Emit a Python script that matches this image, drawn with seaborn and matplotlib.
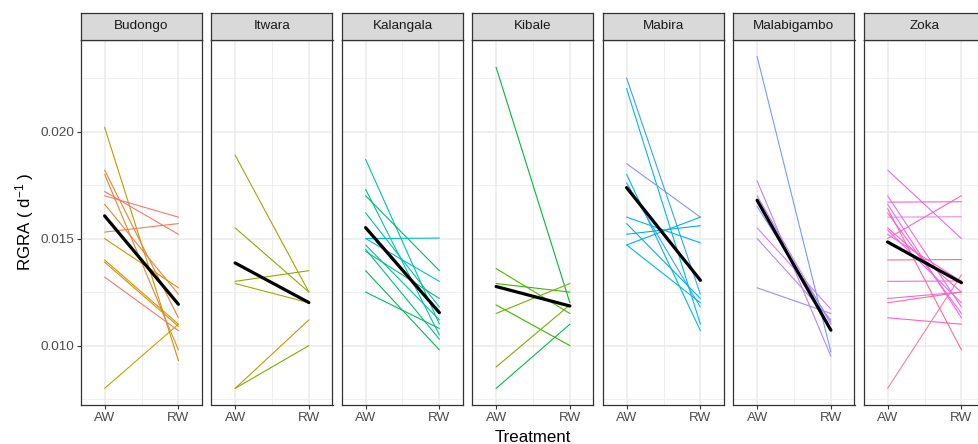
import numpy as np
import pandas as pd
import matplotlib
matplotlib.use("Agg")
import matplotlib.pyplot as plt
import seaborn as sns

# ---------------- data ----------------
sites = ["Budongo", "Itwara", "Kalangala", "Kibale", "Mabira", "Malabigambo", "Zoka"]
treatments = ["AW", "RW"]

budongo_aw = [0.0202, 0.0182, 0.0180, 0.0172, 0.0170, 0.0166, 0.0153, 0.0150, 0.0140, 0.0139, 0.0132, 0.0080]
budongo_rw = [0.0093, 0.0113, 0.0098, 0.0152, 0.0160, 0.0124, 0.0157, 0.0127, 0.0110, 0.0109, 0.0107, 0.0110]
itwara_aw = [0.0189, 0.0155, 0.0130, 0.0129, 0.0080, 0.0080]
itwara_rw = [0.0125, 0.0125, 0.0135, 0.0120, 0.0112, 0.0100]
kalangala_aw = [0.0187, 0.0173, 0.0170, 0.0162, 0.0150, 0.0150, 0.0147, 0.0145, 0.0144, 0.0135, 0.0125]
kalangala_rw = [0.0110, 0.0105, 0.0135, 0.0118, 0.01502, 0.0130, 0.0112, 0.0103, 0.0122, 0.0098, 0.0108]
kibale_aw = [0.0230, 0.0136, 0.0129, 0.0119, 0.0115, 0.0090, 0.0080]
kibale_rw = [0.0120, 0.0115, 0.0125, 0.0100, 0.0129, 0.0119, 0.0110]
mabira_aw = [0.0225, 0.0220, 0.0185, 0.0180, 0.0176, 0.0160, 0.0157, 0.0152, 0.0147, 0.0147]
mabira_rw = [0.0124, 0.0110, 0.0160, 0.0107, 0.0118, 0.0148, 0.0122, 0.0156, 0.0160, 0.0120]
malabigambo_aw = [0.0235, 0.0177, 0.0170, 0.0165, 0.0155, 0.0150, 0.0127]
malabigambo_rw = [0.0097, 0.0095, 0.0110, 0.0111, 0.0117, 0.0112, 0.0115]
zoka_aw = [0.0182, 0.0167, 0.0160, 0.0150, 0.0140, 0.0130, 0.0122, 0.0120, 0.0113, 0.0080,
           0.0170, 0.0166, 0.0164, 0.0162, 0.0155, 0.0154, 0.0152]
zoka_rw = [0.0150, 0.01672, 0.01602, 0.0170, 0.01402, 0.01302, 0.0125, 0.0125, 0.0110, 0.0133,
           0.0118, 0.0113, 0.0098, 0.0115, 0.0125, 0.0120, 0.0130]

mean_aw = [0.01606, 0.01386, 0.01551, 0.01276, 0.01738, 0.01679, 0.01484]
mean_rw = [0.01193, 0.01201, 0.01154, 0.01185, 0.01305, 0.01072, 0.01294]

# line colours (one per individual line, per site)
budongo_cols = ["#C09B00", "#EA8331", "#EA8331", "#F8766D", "#F8766D", "#EA8331", "#F07F4F",
                "#D89000", "#D89000", "#C99800", "#F8766D", "#C9A000"]
itwara_cols = ["#A3A500", "#8EAB00", "#8EAB00", "#A3A500", "#C09B00", "#7CAE00"]
kalangala_cols = ["#00C1A3", "#00C1A3", "#00BB6A", "#00C1A3", "#00BFC4", "#00BAE0", "#00C1A3",
                  "#00BF7D", "#00BF7D", "#00BB4E", "#00BB6A"]
kibale_cols = ["#00BA38", "#53B400", "#39B600", "#39B600", "#7CAE00", "#7CAE00", "#00BB4E"]
mabira_cols = ["#35A2FF", "#00B8E7", "#7F96FF", "#00BAE0", "#35A2FF", "#00B0F6", "#00B0F6",
               "#00A9FF", "#00A9FF", "#00BAE0"]
malabigambo_cols = ["#6E9CFF", "#B983FF", "#B983FF", "#8F93FF", "#D47EFF", "#B983FF", "#9D8AFF"]
zoka_cols = ["#DA6FF5", "#FF62BC", "#E58AF5", "#FF62BC", "#FF6C91", "#F567E0", "#F567E0",
             "#FF6C91", "#FF62BC", "#FF7AA0", "#E76BF3", "#F066E8", "#FF6C91", "#FA62DB",
             "#FF62BC", "#E76BF3", "#FA62DB"]

site_data = {
    "Budongo": (budongo_aw, budongo_rw, budongo_cols),
    "Itwara": (itwara_aw, itwara_rw, itwara_cols),
    "Kalangala": (kalangala_aw, kalangala_rw, kalangala_cols),
    "Kibale": (kibale_aw, kibale_rw, kibale_cols),
    "Mabira": (mabira_aw, mabira_rw, mabira_cols),
    "Malabigambo": (malabigambo_aw, malabigambo_rw, malabigambo_cols),
    "Zoka": (zoka_aw, zoka_rw, zoka_cols),
}

# ---------------- style ----------------
sns.set_theme(style="white")
plt.rcParams["font.family"] = ["Liberation Sans", "DejaVu Sans"]
plt.rcParams["mathtext.fontset"] = "custom"
plt.rcParams["mathtext.rm"] = "Liberation Sans"
plt.rcParams["mathtext.it"] = "Liberation Sans:italic"
plt.rcParams["mathtext.bf"] = "Liberation Sans:bold"

W, H = 979, 444
fig = plt.figure(figsize=(W / 100, H / 100), dpi=100)
fig.patch.set_facecolor("white")

panel_w = 121
panel_top, panel_bot = 40, 405
strip_top = 13
step = 130.5
left0 = 81

grid_col = "#EBEBEB"
border_col = "#333333"
text_col = "#4D4D4D"

for i, site in enumerate(sites):
    aw, rw, cols = site_data[site]
    left = left0 + i * step
    ax = fig.add_axes([left / W, (H - panel_bot) / H, panel_w / W, (panel_bot - panel_top) / H])
    ids = [f"{site}_{k}" for k in range(len(aw))]
    df = pd.DataFrame({
        "id": ids * 2,
        "x": [1] * len(aw) + [2] * len(rw),
        "RGRA": list(aw) + list(rw),
    })
    pal = dict(zip(ids, cols))
    sns.lineplot(data=df, x="x", y="RGRA", hue="id", units="id", estimator=None,
                 palette=pal, linewidth=0.8, legend=False, ax=ax, zorder=3)
    mdf = pd.DataFrame({"x": [1, 2], "RGRA": [mean_aw[i], mean_rw[i]]})
    sns.lineplot(data=mdf, x="x", y="RGRA", color="black", linewidth=2.3, ax=ax, zorder=4)

    ax.set_xlim(0.68, 2.32)
    ax.set_ylim(0.007225, 0.024275)
    ax.set_xticks([1, 2])
    ax.set_xticks([1.5], minor=True)
    ax.set_xticklabels(treatments)
    ax.set_yticks([0.010, 0.015, 0.020])
    ax.set_yticks([0.0075, 0.0125, 0.0175, 0.0225], minor=True)
    ax.grid(True, which="major", color=grid_col, linewidth=1.1, zorder=0)
    ax.grid(True, which="minor", color=grid_col, linewidth=0.55, zorder=0)
    ax.set_axisbelow(True)
    ax.set_facecolor("white")
    for sp in ax.spines.values():
        sp.set_visible(True)
        sp.set_color(border_col)
        sp.set_linewidth(0.9)
    ax.tick_params(axis="x", which="major", length=3, width=0.8, color=border_col,
                   labelsize=9.7, labelcolor=text_col, pad=2, bottom=True)
    ax.tick_params(axis="x", which="minor", length=0, bottom=False)
    ax.tick_params(axis="y", which="minor", length=0, left=False)
    if i == 0:
        ax.yaxis.set_major_formatter(matplotlib.ticker.FormatStrFormatter("%.3f"))
        ax.tick_params(axis="y", which="major", length=3, width=0.8, color=border_col,
                       labelsize=9.7, labelcolor=text_col, pad=2, left=True)
    else:
        ax.tick_params(axis="y", which="major", length=0, left=False, labelleft=False)
    ax.set_xlabel("")
    ax.set_ylabel("")

    # strip
    sax = fig.add_axes([left / W, (H - panel_top) / H, panel_w / W, (panel_top - strip_top) / H])
    sax.set_facecolor("#D9D9D9")
    sax.set_xticks([])
    sax.set_yticks([])
    for sp in sax.spines.values():
        sp.set_visible(True)
        sp.set_color(border_col)
        sp.set_linewidth(0.9)
    sax.text(0.5, 0.5, site, ha="center", va="center", fontsize=9.7, color="#1A1A1A",
             transform=sax.transAxes)

# axis titles
fig.text((left0 + (left0 + 6 * step + panel_w)) / 2 / W, 1 - 437 / H, "Treatment",
         ha="center", va="center", fontsize=12.2, color="black")
fig.text(25 / W, 1 - 222 / H, r"RGRA ( d$^{-1}$ )", ha="center", va="center",
         rotation=90, fontsize=12.2, color="black")

fig.savefig("out.png", dpi=100, facecolor="white")
